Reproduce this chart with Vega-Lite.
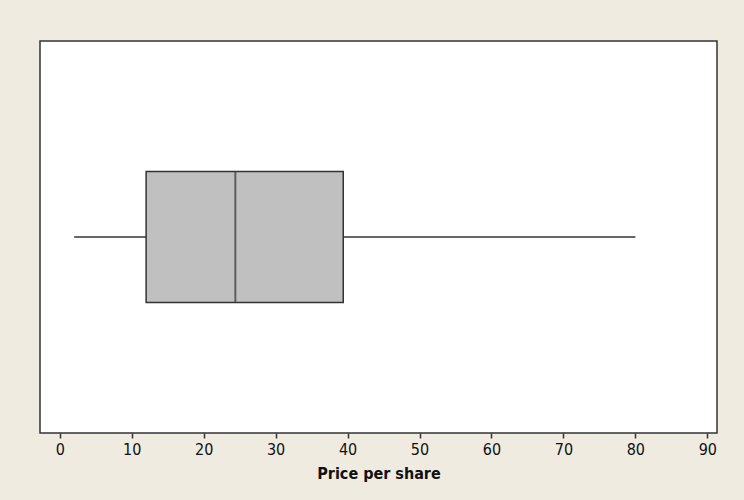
{
  "$schema": "https://vega.github.io/schema/vega-lite/v6.json",
  "width": 677,
  "height": 392,
  "autosize": {"type": "none"},
  "padding": {"left": 40, "top": 41, "right": 27, "bottom": 67},
  "background": "#efebe0",
  "config": {
    "view": {"fill": "white", "stroke": "#333333", "strokeWidth": 1.5},
    "axis": {"grid": false}
  },
  "data": {"values": [{"series": "Price per share", "min": 2, "q1": 12, "median": 24.4, "q3": 39.4, "max": 80}]},
  "encoding": {
    "y": {"field": "series", "type": "nominal", "axis": null}
  },
  "layer": [
    {
      "mark": {"type": "rule", "stroke": "#333333", "strokeWidth": 1.5},
      "encoding": {
        "x": {
          "field": "min", "type": "quantitative",
          "scale": {"domain": [-2.75, 91.35], "nice": false, "zero": false},
          "axis": {
            "title": "Price per share",
            "values": [0, 10, 20, 30, 40, 50, 60, 70, 80, 90],
            "domain": false,
            "tickColor": "#333333", "tickSize": 5, "tickWidth": 1.5,
            "labelFont": "DejaVu Sans Condensed", "labelFontSize": 16, "labelColor": "#111111",
            "labelPadding": 3,
            "titleFont": "DejaVu Sans Condensed", "titleFontSize": 16, "titleFontWeight": "bold", "titleColor": "#111111",
            "titlePadding": 8
          }
        },
        "x2": {"field": "max"}
      }
    },
    {
      "mark": {"type": "bar", "fill": "#c0c0c0", "stroke": "#333333", "strokeWidth": 1.5, "size": 131},
      "encoding": {
        "x": {"field": "q1", "type": "quantitative"},
        "x2": {"field": "q3"}
      }
    },
    {
      "mark": {"type": "tick", "color": "#333333", "thickness": 2, "size": 131, "orient": "vertical"},
      "encoding": {
        "x": {"field": "median", "type": "quantitative"}
      }
    }
  ]
}
